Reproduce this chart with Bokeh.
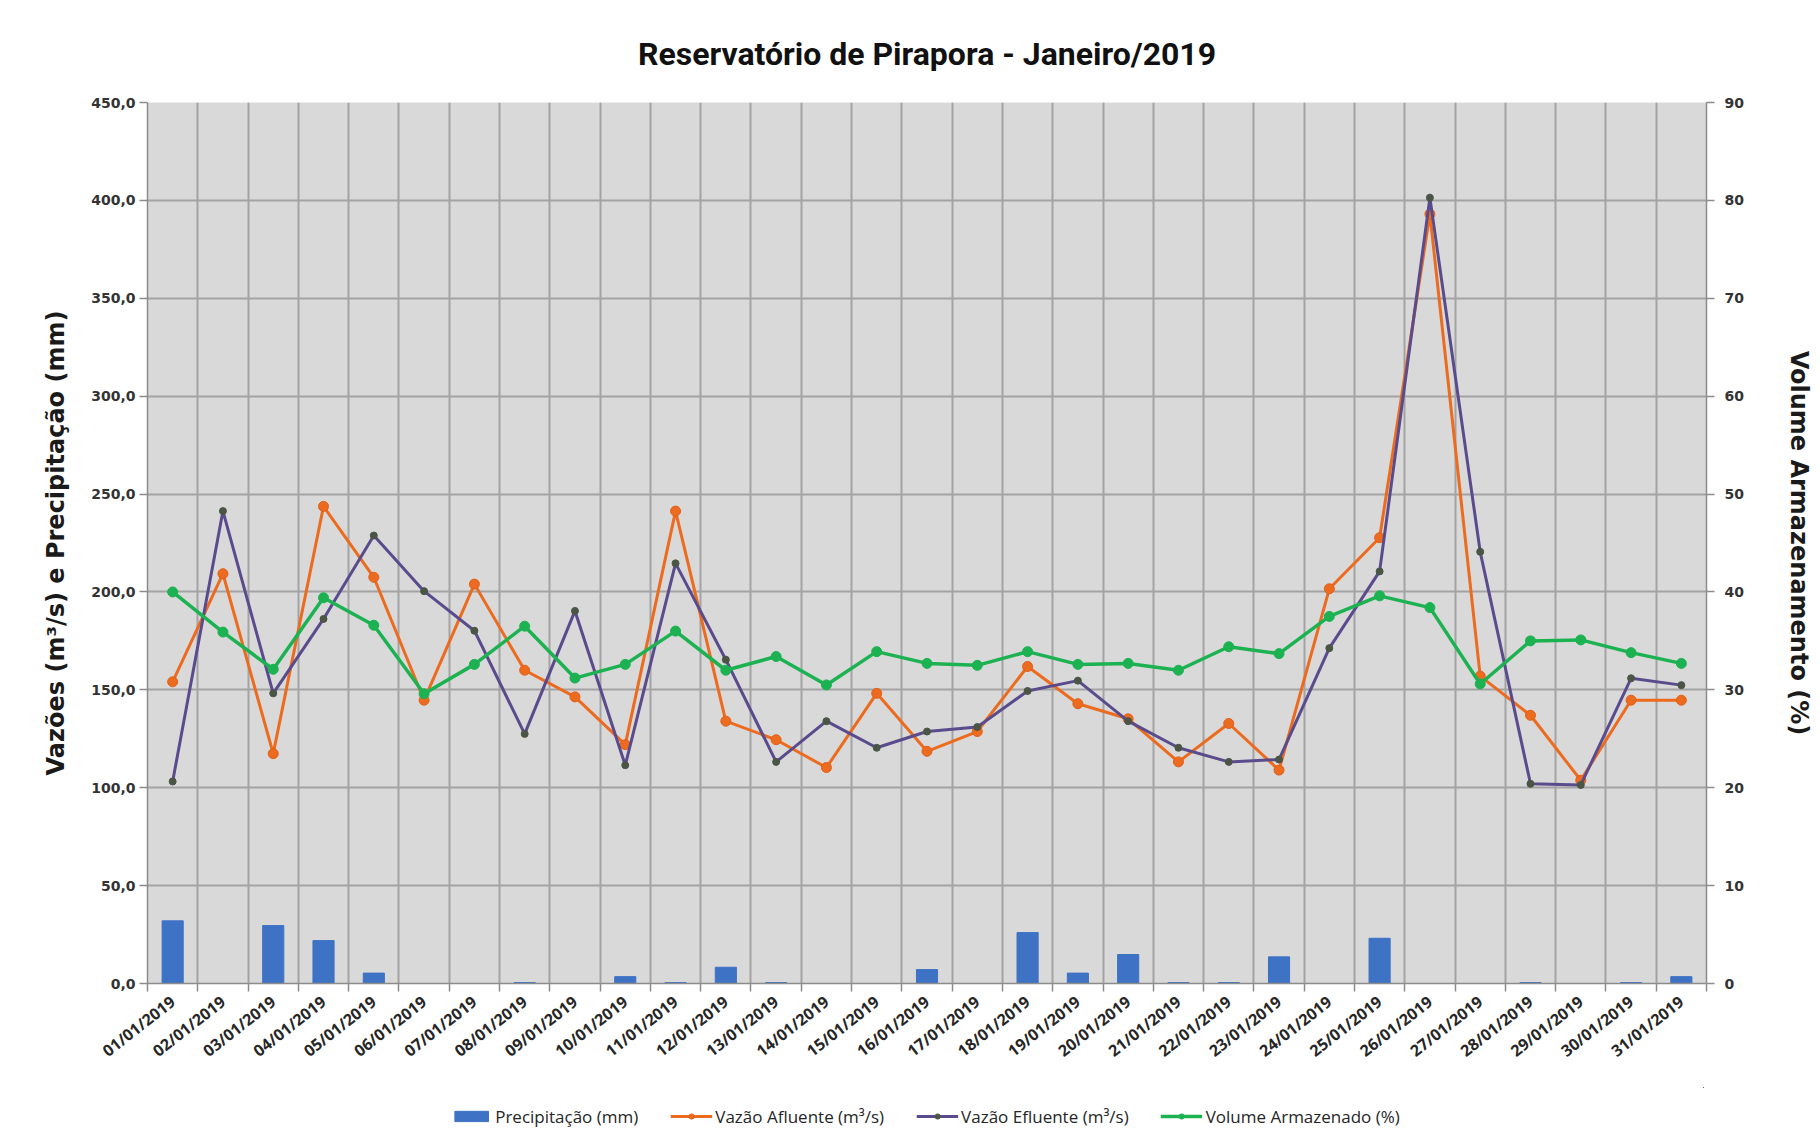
from bokeh.plotting import figure
from bokeh.models import Range1d, LinearAxis, FixedTicker, Legend, LegendItem, ColumnDataSource
from bokeh.layouts import column
from bokeh.embed import file_html
from bokeh.resources import INLINE
import math

dates = ["01/01/2019", "02/01/2019", "03/01/2019", "04/01/2019", "05/01/2019", "06/01/2019",
         "07/01/2019", "08/01/2019", "09/01/2019", "10/01/2019", "11/01/2019", "12/01/2019",
         "13/01/2019", "14/01/2019", "15/01/2019", "16/01/2019", "17/01/2019", "18/01/2019",
         "19/01/2019", "20/01/2019", "21/01/2019", "22/01/2019", "23/01/2019", "24/01/2019",
         "25/01/2019", "26/01/2019", "27/01/2019", "28/01/2019", "29/01/2019", "30/01/2019",
         "31/01/2019"]

precipitacao = [32.0, 0, 29.6, 21.9, 5.3, 0, 0, 0.5, 0, 3.5, 0.5, 8.3, 0.5, 0, 0, 7.1,
                0, 26.0, 5.3, 14.8, 0.5, 0.5, 13.6, 0, 23.1, 0, 0, 0.5, 0, 0.5, 3.5]

vazao_afluente = [154.1, 209.3, 117.4, 243.7, 207.5, 144.7, 204.0, 160.0, 146.4, 122.0,
                  241.3, 134.0, 124.5, 110.3, 148.2, 118.6, 128.7, 161.9, 142.9, 135.2,
                  113.2, 132.8, 109.0, 201.6, 227.7, 393.0, 157.0, 137.0, 103.8, 144.7, 144.7]

vazao_efluente = [103.2, 241.3, 148.2, 186.2, 228.8, 200.4, 180.2, 127.5, 190.3, 111.5,
                  214.6, 165.4, 113.2, 134.0, 120.4, 128.7, 131.0, 149.4, 154.7, 134.0,
                  120.4, 113.2, 114.4, 171.3, 210.5, 401.4, 220.5, 102.0, 101.4, 155.9, 152.4]

volume_armazenado = [40.0, 35.9, 32.1, 39.4, 36.6, 29.6, 32.6, 36.5, 31.2, 32.6, 36.0, 32.0,
                     33.4, 30.5, 33.9, 32.7, 32.5, 33.9, 32.6, 32.7, 32.0, 34.4, 33.7, 37.5,
                     39.6, 38.4, 30.6, 35.0, 35.1, 33.8, 32.7]

left_ticks = [0, 50, 100, 150, 200, 250, 300, 350, 400, 450]
left_labels = ["0,0", "50,0", "100,0", "150,0", "200,0", "250,0", "300,0", "350,0", "400,0", "450,0"]
right_ticks = [0, 10, 20, 30, 40, 50, 60, 70, 80, 90]

series_labels = ["Precipitação (mm)", "Vazão Afluente (m³/s)", "Vazão Efluente (m³/s)",
                 "Volume Armazenado (%)"]

n = len(dates)
xs = list(range(1, n + 1))
bounds = [i + 0.5 for i in range(0, n + 1)]

src = ColumnDataSource(dict(x=xs, precip=precipitacao, afl=vazao_afluente,
                            efl=vazao_efluente, vol=volume_armazenado))

C_BAR, C_AFL, C_EFL, C_EFL_M, C_VOL = "#3D72C4", "#EC6B1E", "#5A4B8C", "#4A5546", "#1CB252"

p = figure(frame_width=1559, frame_height=881, x_range=Range1d(0.5, n + 0.5), y_range=Range1d(0, 450),
           output_backend="svg", toolbar_location=None,
           min_border_left=147, min_border_right=106, min_border_top=102, min_border_bottom=104)

p.background_fill_color = "#D9D9D9"
p.border_fill_color = "white"
p.outline_line_color = None

p.title.text = "Reservatório de Pirapora - Janeiro/2019"
p.title.align = "center"
p.title.text_font = "Roboto"
p.title.text_font_size = "32px"
p.title.text_font_style = "bold"
p.title.text_color = "#111111"
p.title.standoff = 59

p.extra_y_ranges = {"vol": Range1d(0, 90)}

# grids
p.ygrid.ticker = FixedTicker(ticks=left_ticks)
p.ygrid.grid_line_color = "#A3A3A3"
p.ygrid.grid_line_width = 2
p.xgrid.ticker = FixedTicker(ticks=bounds)
p.xgrid.grid_line_color = "#A3A3A3"
p.xgrid.grid_line_width = 2

# x axis
xa = p.xaxis[0]
xa.ticker = FixedTicker(ticks=xs, minor_ticks=bounds)
xa.major_label_overrides = {x: d for x, d in zip(xs, dates)}
xa.major_label_orientation = math.radians(38)
xa.major_tick_out = 0
xa.major_tick_in = 0
xa.minor_tick_out = 8
xa.minor_tick_in = 0
xa.minor_tick_line_color = "#8C8C8C"
xa.minor_tick_line_width = 1.5
xa.axis_line_color = "#8C8C8C"
xa.axis_line_width = 1.5
xa.major_label_standoff = 8
xa.major_label_text_font = "Open Sans"
xa.major_label_text_font_size = "16px"
xa.major_label_text_font_style = "bold"
xa.major_label_text_color = "#262626"

# left axis
ya = p.yaxis[0]
ya.ticker = FixedTicker(ticks=left_ticks)
ya.major_label_overrides = {t: l for t, l in zip(left_ticks, left_labels)}
ya.minor_tick_line_color = None
ya.major_tick_out = 8
ya.major_tick_in = 0
ya.major_tick_line_color = "#8C8C8C"
ya.major_tick_line_width = 1.5
ya.axis_line_color = "#8C8C8C"
ya.axis_line_width = 1.5
ya.major_label_standoff = 4
ya.major_label_text_font = "DejaVu Sans"
ya.major_label_text_font_size = "14px"
ya.major_label_text_font_style = "bold"
ya.major_label_text_color = "#333333"
ya.axis_label = "Vazões (m³/s) e Precipitação (mm)"
ya.axis_label_text_font = "DejaVu Sans"
ya.axis_label_text_font_size = "24px"
ya.axis_label_text_font_style = "bold"
ya.axis_label_text_color = "#1a1a1a"
ya.axis_label_standoff = 18

# right axis
ra = LinearAxis(y_range_name="vol", ticker=FixedTicker(ticks=right_ticks))
ra.minor_tick_line_color = None
ra.major_tick_out = 8
ra.major_tick_in = 0
ra.major_tick_line_color = "#8C8C8C"
ra.major_tick_line_width = 1.5
ra.axis_line_color = "#8C8C8C"
ra.axis_line_width = 1.5
ra.major_label_standoff = 10
ra.major_label_text_font = "DejaVu Sans"
ra.major_label_text_font_size = "14px"
ra.major_label_text_font_style = "bold"
ra.major_label_text_color = "#333333"
ra.axis_label = "Volume Armazenamento (%)"
ra.axis_label_text_font = "DejaVu Sans"
ra.axis_label_text_font_size = "24px"
ra.axis_label_text_font_style = "bold"
ra.axis_label_text_color = "#1a1a1a"
ra.axis_label_standoff = 38
p.add_layout(ra, "right")


def draw_series(fig, vol_range=None):
    b = fig.vbar(x="x", top="precip", width=0.42, source=src, fill_color=C_BAR, line_color=C_BAR)
    la = fig.line("x", "afl", source=src, line_color=C_AFL, line_width=3)
    sa = fig.scatter("x", "afl", source=src, size=10, marker="circle",
                     fill_color=C_AFL, line_color="#E0601A")
    le = fig.line("x", "efl", source=src, line_color=C_EFL, line_width=3)
    se = fig.scatter("x", "efl", source=src, size=7, marker="circle",
                     fill_color=C_EFL_M, line_color=C_EFL_M)
    kw = {"y_range_name": vol_range} if vol_range else {}
    lv = fig.line("x", "vol", source=src, line_color=C_VOL, line_width=3.5, **kw)
    sv = fig.scatter("x", "vol", source=src, size=10, marker="circle",
                     fill_color=C_VOL, line_color=C_VOL, **kw)
    return [[b], [la, sa], [le, se], [lv, sv]]


draw_series(p, "vol")

# legend strip below the chart (its own copies of the series lie outside its view)
leg = figure(width=1812, height=58, x_range=Range1d(-2, -1), y_range=Range1d(-2, -1),
             x_axis_type=None, y_axis_type=None, output_backend="svg", toolbar_location=None,
             min_border_left=40, min_border_right=0, min_border_top=0, min_border_bottom=0)
leg.grid.visible = False
leg.outline_line_color = None
leg.background_fill_color = "white"
leg.border_fill_color = "white"
groups = draw_series(leg)

legend = Legend(items=[LegendItem(label=lab, renderers=rs) for lab, rs in zip(series_labels, groups)],
                orientation="horizontal", location="center")
legend.padding = 0
legend.margin = 0
legend.spacing = 32
legend.glyph_width = 42
legend.glyph_height = 13
legend.label_standoff = 3
legend.label_text_font = "Open Sans"
legend.label_text_font_size = "17px"
legend.label_text_color = "#262626"
legend.border_line_color = None
legend.background_fill_alpha = 0
leg.add_layout(legend, "center")

layout = column(p, leg, spacing=0)

open("out.html", "w").write(file_html(layout, INLINE))
